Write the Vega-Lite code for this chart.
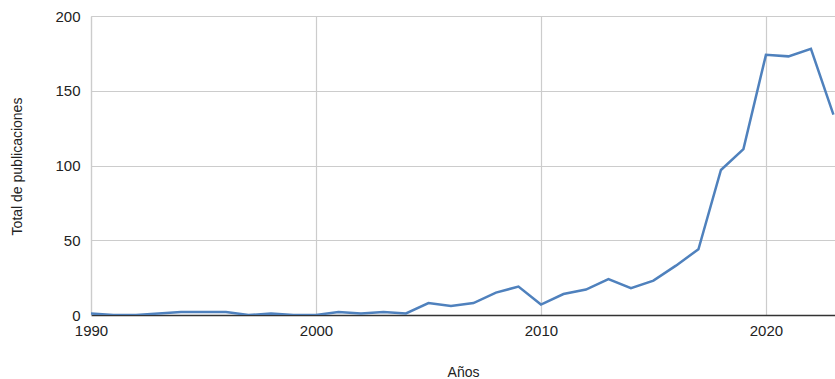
{
  "$schema": "https://vega.github.io/schema/vega-lite/v6.json",
  "width": 744,
  "height": 299,
  "autosize": {"type": "none"},
  "padding": {"left": 91, "top": 16, "right": 0, "bottom": 64},
  "background": "white",
  "config": {
    "view": {"stroke": null},
    "font": "Liberation Sans"
  },
  "data": {
    "values": [
      {"year": 1990, "total": 1},
      {"year": 1991, "total": 0},
      {"year": 1992, "total": 0},
      {"year": 1993, "total": 1},
      {"year": 1994, "total": 2},
      {"year": 1995, "total": 2},
      {"year": 1996, "total": 2},
      {"year": 1997, "total": 0},
      {"year": 1998, "total": 1},
      {"year": 1999, "total": 0},
      {"year": 2000, "total": 0},
      {"year": 2001, "total": 2},
      {"year": 2002, "total": 1},
      {"year": 2003, "total": 2},
      {"year": 2004, "total": 1},
      {"year": 2005, "total": 8},
      {"year": 2006, "total": 6},
      {"year": 2007, "total": 8},
      {"year": 2008, "total": 15},
      {"year": 2009, "total": 19},
      {"year": 2010, "total": 7},
      {"year": 2011, "total": 14},
      {"year": 2012, "total": 17},
      {"year": 2013, "total": 24},
      {"year": 2014, "total": 18},
      {"year": 2015, "total": 23},
      {"year": 2016, "total": 33},
      {"year": 2017, "total": 44},
      {"year": 2018, "total": 97},
      {"year": 2019, "total": 111},
      {"year": 2020, "total": 174},
      {"year": 2021, "total": 173},
      {"year": 2022, "total": 178},
      {"year": 2023, "total": 134}
    ]
  },
  "mark": {"type": "line", "color": "#4f81bd", "strokeWidth": 2.5, "clip": true},
  "encoding": {
    "x": {
      "field": "year",
      "type": "quantitative",
      "scale": {"domain": [1990, 2023.07], "nice": false, "zero": false},
      "axis": {
        "title": "Años",
        "values": [1990, 2000, 2010, 2020],
        "format": "d",
        "grid": true,
        "gridColor": "#cccccc",
        "gridWidth": 1.2,
        "ticks": false,
        "domainColor": "#333333",
        "domainWidth": 1.5,
        "labelFontSize": 15,
        "labelColor": "#222222",
        "labelPadding": 8,
        "labelFlush": false,
        "titleFontSize": 14,
        "titleFontWeight": "normal",
        "titleColor": "#222222",
        "titleY": 57,
        "titleBaseline": "middle"
      }
    },
    "y": {
      "field": "total",
      "type": "quantitative",
      "scale": {"domain": [0, 200], "nice": false},
      "axis": {
        "title": "Total de publicaciones",
        "values": [0, 50, 100, 150, 200],
        "grid": true,
        "gridColor": "#cccccc",
        "gridWidth": 1.2,
        "ticks": false,
        "domainColor": "#cccccc",
        "domainWidth": 1.2,
        "labelFontSize": 15,
        "labelColor": "#222222",
        "labelPadding": 11,
        "titleFontSize": 14,
        "titleFontWeight": "normal",
        "titleColor": "#222222",
        "titleX": -74,
        "titleY": 150,
        "titleAngle": -90,
        "titleBaseline": "middle",
        "titleAlign": "center"
      }
    }
  }
}
